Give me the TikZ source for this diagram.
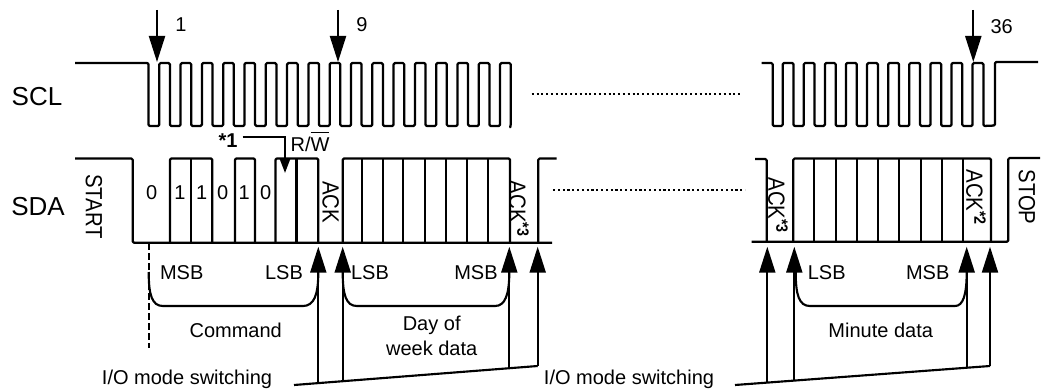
\documentclass[tikz,border=0pt]{standalone}
\usepackage{fontspec}
\setmainfont{Liberation Sans}
\usetikzlibrary{arrows.meta}
\newcommand{\tallvert}[1]{\scalebox{1.02}[1.17]{#1}}
\tikzset{
    sig/.style={line width=1.7pt, line join=round, rounded corners=1pt},
    down/.style={line width=1.6pt, -{Triangle[length=19.5pt,width=12pt]}},
    up/.style={line width=1.6pt, -{Triangle[length=19.5pt,width=12pt]}},
    dots/.style={line width=1.6pt, dash pattern=on 1.6pt off 2pt},
    lbl/.style={font=\fontsize{15}{18}\selectfont, inner sep=0pt, align=center},
    big/.style={font=\fontsize{19.5}{22}\selectfont, inner sep=0pt},
    vert/.style={lbl, rotate=-90},
}
\begin{document}
\begin{tikzpicture}[x=0.75pt, y=-0.75pt]
    \useasboundingbox (0,0) rectangle (1042,392);
    % clock, left part
    \draw[sig] (75,63) -- (148.5,63) -- (148.5,126)
        \foreach \k in {0,...,16} {
            -- ({159.3+21.3*\k},126) -- ({159.3+21.3*\k},63)
            -- ({169.9+21.3*\k},63) -- ({169.9+21.3*\k},126)
        } -- (510.3,127);
    % clock, right part
    \draw[sig] (761.7,63) -- (772.7,63) -- (772.7,126)
        \foreach \k in {0,...,9} {
            -- ({782.7+21.1*\k},126) -- ({782.7+21.1*\k},63)
            -- ({793.5+21.1*\k},63) -- ({793.5+21.1*\k},126)
        } -- (995,125.5) -- (995,62) -- (1038,62);
    \draw[dots] (531.7,94) -- (740,94);
    \draw[dots] (553,190) -- (745,190);
    \draw[down] (157,10) -- (157,62);
    \draw[down] (338,10) -- (338,62);
    \draw[down] (973.3,10) -- (973.3,62);
    \node[lbl] (nOne) at (181,25) {1};
    \node[lbl] (nNine) at (362,25) {9};
    \node[lbl] (nLast) at (1001.7,27) {36};
    \node[big] (scl) at (37,96.7) {SCL};
    \node[big] (sda) at (38,206.7) {SDA};
    % data, left part
    \draw[sig] (75,158.5) -- (132.7,158.5) -- (132.7,242.7) -- (552,242.7);
    \draw[sig] (170,242.7) -- (170,158.5) -- (212.3,158.5) -- (212.3,242.7);
    \draw[sig] (191,158.5) -- (191,242.7);
    \draw[sig] (235,242.7) -- (235,158.5) -- (255,158.5) -- (255,242.7);
    \draw[sig] (275.5,242.7) -- (275.5,158.5) -- (318.3,158.5) -- (318.3,242.7);
    \draw[sig] (296.5,158.5) -- (296.5,242.7);
    \draw[sig] (342.7,242.7) -- (342.7,158.5) -- (510,158.5) -- (510,242.7);
    \foreach \x in {361.7,382.7,403.3,425,446,467.3,488.3}
        \draw[sig] (\x,158.5) -- (\x,242.7);
    \draw[sig] (538.3,242.7) -- (538.3,158.5) -- (556.7,158.5);
    % data, right part
    \draw[sig] (755,159) -- (766.7,159) -- (766.7,241.7);
    \draw[sig] (751.7,241.7) -- (1008.3,241.7) -- (1008.3,158) -- (1040,158);
    \draw[sig] (793.3,241.7) -- (793.3,158.5) -- (991,158.5) -- (991,241.7);
    \foreach \x in {814.3,836,856.7,878.3,899.3,920.7,941.7,963.3}
        \draw[sig] (\x,158.5) -- (\x,241.7);
    \node[vert] (start) at (94,206.7) {\tallvert{START}};
    \node[vert] (stop) at (1027,197) {\tallvert{STOP}};
    \node[vert] (ackA) at (330.7,202) {\tallvert{ACK}};
    \node[vert] (ackB) at (519,209) {\tallvert{ACK\textsuperscript{\bfseries *3}}};
    \node[vert] (ackC) at (778,205.5) {\tallvert{ACK\textsuperscript{\bfseries *3}}};
    \node[vert] (ackD) at (976,197.5) {\tallvert{ACK\textsuperscript{\bfseries *2}}};
    \foreach \x/\b [count=\i] in {151.7/0,180/1,201.7/1,222.7/0,244.3/1,265.7/0}
        \node[lbl] (bit\i) at (\x,192.7) {\b};
    \node[lbl, font=\fontsize{15}{18}\bfseries] (noteOne) at (228,141) {*1};
    \node[lbl, anchor=base] (rw) at (310,152) {R/$\overline{\mbox{W\rule{0pt}{13.5pt}}}$};
    \draw[line width=1.6pt, -{Triangle[length=10.5pt,width=7.5pt]}] (242.7,137.3) -- (285,137.3) -- (285,173);
    % bit order marks
    \draw[line width=1.5pt, dash pattern=on 5pt off 2.5pt] (148.7,243) -- (148.7,348);
    \draw[line width=1.6pt] (148.7,272) .. controls (148.7,295) and (152,306) .. (163,306) -- (303,306) .. controls (314,306) and (318.3,295) .. (318.3,272);
    \draw[line width=1.6pt] (342.7,272) .. controls (342.7,295) and (346,306) .. (357,306) -- (495,306) .. controls (505,306) and (509.3,295) .. (509.3,272);
    \draw[line width=1.6pt] (795.7,272) .. controls (795.7,295) and (799,306) .. (810,306) -- (955,306) .. controls (963,306) and (966.7,295) .. (966.7,272);
    \node[lbl] (msbA) at (181.7,273) {MSB};
    \node[lbl] (lsbA) at (284,273) {LSB};
    \node[lbl] (lsbB) at (370,273) {LSB};
    \node[lbl] (msbB) at (476,273) {MSB};
    \node[lbl] (lsbC) at (826.7,273) {LSB};
    \node[lbl] (msbC) at (927.7,273) {MSB};
    \node[lbl] (cmd) at (235.7,330) {Command};
    \node[lbl] (dow) at (431.7,336) {Day of\\[1pt]week data};
    \node[lbl] (mins) at (880.7,330) {Minute data};
    % mode switching
    \draw[line width=1.6pt] (294,385) -- (537.7,366);
    \draw[line width=1.6pt] (735,385) -- (990,366);
    \draw[up] (318.3,383) -- (318.3,246.7);
    \draw[up] (342.7,381) -- (342.7,246.7);
    \draw[up] (509.3,368) -- (509.3,246.7);
    \draw[up] (537.7,366) -- (537.7,246.7);
    \draw[up] (767.3,383) -- (767.3,246.7);
    \draw[up] (794.3,381) -- (794.3,246.7);
    \draw[up] (966.7,368) -- (966.7,246.7);
    \draw[up] (990,366) -- (990,246.7);
    \node[lbl] (modeA) at (187,379) {I/O mode switching};
    \node[lbl] (modeB) at (629,379) {I/O mode switching};
\end{tikzpicture}
\end{document}
